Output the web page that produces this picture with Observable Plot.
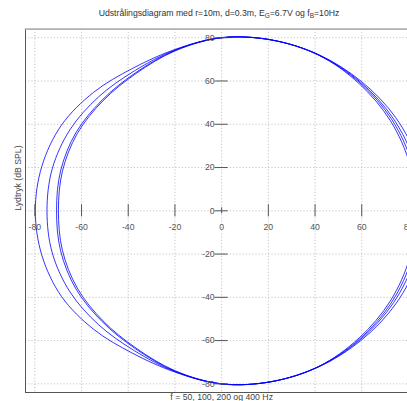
<!DOCTYPE html>
<html><head><meta charset="utf-8">
<script src="https://cdn.jsdelivr.net/npm/d3@7"></script>
<script src="https://cdn.jsdelivr.net/npm/@observablehq/plot@0.6"></script>
<style>
html,body{margin:0;padding:0;background:#fff;overflow:hidden;}
#wrap{position:relative;width:440px;height:401px;}
#title{position:absolute;top:8px;left:0;width:438px;text-align:center;font:8.7px "Liberation Sans",Arial,sans-serif;color:#333;line-height:11px;white-space:nowrap;}
#title sub{font-size:6.5px;vertical-align:-2px;line-height:0;}
#chart{position:absolute;top:0;left:0;}
</style></head><body>
<div id="wrap"><div id="chart"></div><div id="title">Udstrålingsdiagram med r=10m, d=0.3m, E<sub>G</sub>=6.7V og f<sub>B</sub>=10Hz</div></div>
<script>
// Radiation diagram: sound pressure level (dB SPL) per direction (0° = front, 180° = back)
const freqs  = ["50 Hz", "100 Hz", "200 Hz", "400 Hz"];
const angles = [0, 15, 30, 45, 60, 75, 90, 105, 120, 135, 150, 165, 180];
const spl50  = [83.3, 83.4, 83.4, 83.2, 83.1, 81.8, 80.1, 77.2, 76.1, 77.5, 79.2, 79.7, 79.8];
const spl100 = [84.5, 84.4, 84.2, 83.7, 83.1, 81.8, 80.0, 77.0, 74.7, 74.5, 75.0, 75.1, 74.8];
const spl200 = [85.8, 85.6, 85.0, 84.1, 83.2, 81.8, 80.0, 76.8, 73.7, 72.4, 72.1, 71.4, 70.7];
const spl400 = [87.5, 87.2, 86.1, 84.6, 83.3, 81.8, 80.0, 76.6, 73.3, 71.9, 71.4, 70.6, 69.9];
const xTicks = [-80, -60, -40, -20, 0, 20, 40, 60, 80];
const yTicks = [-80, -60, -40, -20, 0, 20, 40, 60, 80];
const xLabel = "f = 50, 100, 200 og 400 Hz";
const yLabel = "Lydtryk (dB SPL)";

// Polar -> cartesian; the pattern is symmetric, so negative angles reuse the same levels
const series = [spl50, spl100, spl200, spl400];
const rows = [];
series.forEach((spl, i) => {
  const pts = angles.map((a, j) => ({a, r: spl[j]}));
  for (let j = angles.length - 2; j >= 1; j--) pts.push({a: -angles[j], r: spl[j]});
  pts.forEach(({a, r}) => rows.push({f: freqs[i], x: r * Math.cos(a * Math.PI / 180), y: r * Math.sin(a * Math.PI / 180)}));
});

const font = '"Liberation Sans", Arial, sans-serif';
const chart = Plot.plot({
  width: 440, height: 401,
  marginLeft: 25, marginRight: 22.7, marginTop: 28.6, marginBottom: 9,
  style: {fontFamily: font, background: "transparent"},
  x: {domain: [-84, 84], axis: null},
  y: {domain: [-84, 84], axis: null},
  marks: [
    Plot.ruleX(xTicks, {stroke: "#c4c4c4", strokeDasharray: "1.2,2", strokeWidth: 1}),
    Plot.ruleY(yTicks, {stroke: "#c4c4c4", strokeDasharray: "1.2,2", strokeWidth: 1}),
    Plot.line(rows, {x: "x", y: "y", z: "f", stroke: "#0000ff", strokeWidth: 0.8, curve: "catmull-rom-closed", clip: true}),
    Plot.ruleX(xTicks.filter(d => d !== 0), {y1: -2.8, y2: 2.8, stroke: "#555", strokeWidth: 1}),
    Plot.ruleX([0], {y1: -1.4, y2: 1.4, stroke: "#555", strokeWidth: 1}),
    Plot.ruleY(yTicks, {x1: -2.8, x2: 2.8, stroke: "#555", strokeWidth: 1}),
    Plot.text(xTicks, {x: d => d, y: 0, dy: 16, text: d => String(d), fill: "#555", fontSize: 8.7}),
    Plot.text(yTicks, {x: 0, y: d => d, dx: -7, textAnchor: "end", text: d => String(d), fill: "#555", fontSize: 8.7}),
    Plot.frame({anchor: "left", stroke: "#555"}),
    Plot.frame({anchor: "bottom", stroke: "#555"}),
    Plot.frame({anchor: "top", stroke: "#b0b0b0", strokeWidth: 1.6}),
    Plot.text([xLabel], {frameAnchor: "bottom", dy: 4.5, lineAnchor: "middle", fill: "#444", fontSize: 8.7}),
    Plot.text([yLabel], {frameAnchor: "left", dx: -7, rotate: -90, fill: "#444", fontSize: 8.7})
  ]
});
document.getElementById("chart").appendChild(chart);
</script>
</body></html>
